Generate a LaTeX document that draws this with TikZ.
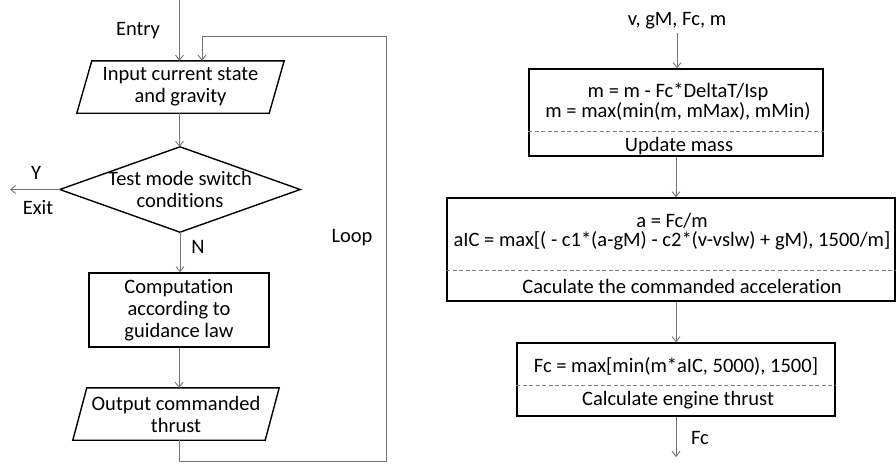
\documentclass[tikz,border=0pt]{standalone}
\usepackage{fontspec}
\setmainfont{Carlito}[Ligatures=CommonOff]
\usetikzlibrary{arrows.meta}
% parallelogram drawn round a named node: top edge shifted right, bottom edge shifted left
\newcommand{\drawslant}[2]{%
  \draw[frame] ([xshift=#2]#1.north west) -- ([xshift=#2]#1.north east)
    -- ([xshift=-#2]#1.south east) -- ([xshift=-#2]#1.south west) -- cycle;}
\begin{document}
\begin{tikzpicture}[x=1pt,y=-1pt,
  txt/.style={font=\fontsize{20.5}{22}\selectfont, inner sep=0pt, align=center},
  frame/.style={draw=black, line width=1.4pt},
  conn/.style={draw=black!55, line width=0.9pt},
  arr/.style={conn, -{Straight Barb[length=5pt,width=8pt]}},
  divider/.style={draw=black!50, line width=0.8pt, dash pattern=on 4pt off 2.5pt},
  boxnode/.style={frame, inner sep=0pt},
]
\useasboundingbox (0,0) rectangle (896,464);

% ---------- left: mode switching loop ----------
\node[txt, minimum width=192pt, minimum height=52pt] (in1) at (180.5,87) {Input current state\\and gravity};
\drawslant{in1}{7.5pt}

\node[txt, minimum width=240pt, minimum height=85pt] (dec) at (180,189.5) {Test mode switch\\conditions};
\draw[frame] (dec.north) -- (dec.east) -- (dec.south) -- (dec.west) -- cycle;

\node[txt, boxnode, minimum width=180pt, minimum height=74pt] (comp) at (179,310) {Computation\\according to\\guidance law};

\node[txt, minimum width=192pt, minimum height=52pt] (out) at (176,414) {Output commanded\\thrust};
\drawslant{out}{7pt}

\coordinate (entrytop) at (179.5,0);
\coordinate (exitend) at (10,189.5);
\coordinate (loopBR) at (386,461);
\coordinate (loopTR) at (386,36);

\draw[arr] (entrytop) -- (entrytop |- in1.north);
\draw[arr] (in1.south -| entrytop) -- (entrytop |- dec.north);
\draw[arr] (dec.south) -- (dec.south |- comp.north);
\draw[arr] (comp.south) -- (comp.south |- out.north);
\draw[arr] (dec.west) -- (exitend);
\draw[arr] ([xshift=3pt]out.south) |- (loopBR) -- (loopTR) -| ([xshift=21.5pt]in1.north);

\node[txt] (entrylbl) at (138,31) {Entry};
\node[txt] (looplbl) at (352,238) {Loop};
\node[txt] (ylbl) at (36,173) {Y};
\node[txt] (exitlbl) at (38,208) {Exit};
\node[txt] (nlbl) at (198,247) {N};

% ---------- right: thrust computation ----------
\node[txt] (vars) at (677,21) {v, gM, Fc, m};

\node[boxnode, minimum width=294pt, minimum height=87pt] (mass) at (676,112.5) {};
\draw[divider] ([yshift=25pt]mass.south west) -- ([yshift=25pt]mass.south east);
\node[txt, font=\fontsize{20.5}{20}\selectfont] (massEq) at (678,102) {m = m - Fc*DeltaT/Isp\\m = max(min(m, mMax), mMin)};
\node[txt] (massLbl) at (679,146) {Update mass};

\node[boxnode, minimum width=448pt, minimum height=103pt] (acc) at (671,249.5) {};
\draw[divider] ([yshift=31pt]acc.south west) -- ([yshift=31pt]acc.south east);
\node[txt, font=\fontsize{20.5}{19}\selectfont] (accEq) at (672,232) {a = Fc/m\\aIC = max[( - c1*(a-gM) - c2*(v-vslw) + gM), 1500/m]};
\node[txt] (accLbl) at (682,286) {Caculate the commanded acceleration};

\node[boxnode, minimum width=318pt, minimum height=73pt] (thr) at (676,379.5) {};
\draw[divider] ([yshift=31pt]thr.south west) -- ([yshift=31pt]thr.south east);
\node[txt] (thrEq) at (676,366) {Fc = max[min(m*aIC, 5000), 1500]};
\node[txt] (thrLbl) at (678,400) {Calculate engine thrust};

\coordinate (outend) at (678,457);
\draw[arr] ([yshift=-3pt]vars.south) -- (vars.south |- mass.north);
\draw[arr] (mass.south) -- (mass.south |- acc.north);
\draw[arr] (mass.south |- acc.south) -- (mass.south |- thr.north);
\draw[arr] (thr.south) -- (thr.south |- outend);
\node[txt] (fclbl) at (700,438) {Fc};
\end{tikzpicture}
\end{document}
